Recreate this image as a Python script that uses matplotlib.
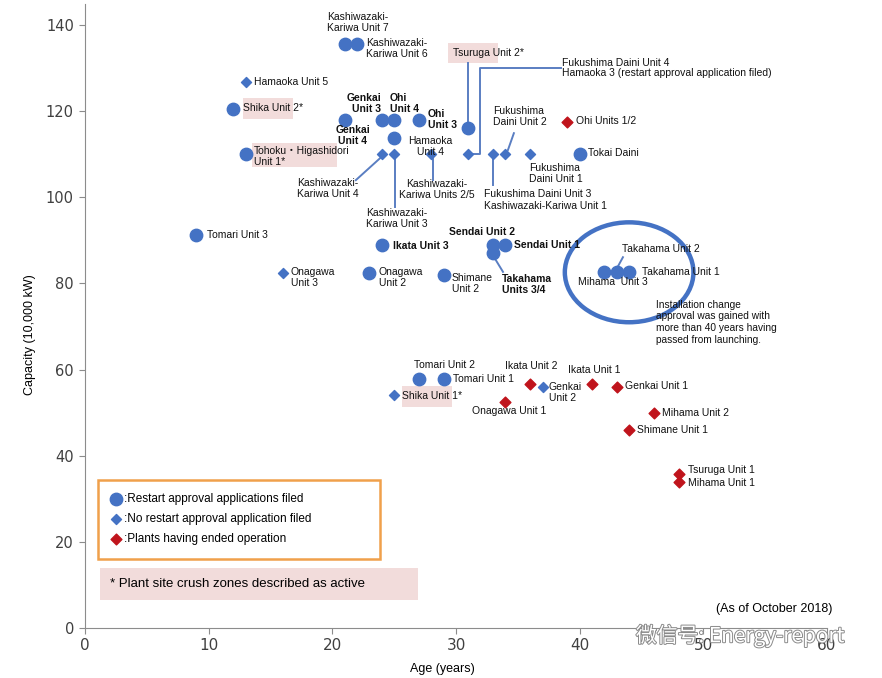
import matplotlib
matplotlib.use("Agg")
import matplotlib.pyplot as plt
from matplotlib.patches import Ellipse, Rectangle
import matplotlib.patheffects as pe

plt.rcParams['font.family'] = ['Liberation Sans', 'Noto Sans CJK JP', 'DejaVu Sans']

# ---- data: age (years) and capacity (10,000 kW) ----
# restart approval applications filed (blue circles)
filed_names = ['Kashiwazaki-Kariwa Unit 7', 'Kashiwazaki-Kariwa Unit 6', 'Shika Unit 2',
               'Genkai Unit 4', 'Genkai Unit 3', 'Ohi Unit 4', 'Ohi Unit 3', 'Hamaoka Unit 4',
               'Tsuruga Unit 2', 'Tohoku Higashidori Unit 1', 'Tokai Daini', 'Tomari Unit 3',
               'Ikata Unit 3', 'Sendai Unit 2', 'Sendai Unit 1', 'Takahama Units 3/4',
               'Onagawa Unit 2', 'Shimane Unit 2', 'Mihama Unit 3', 'Takahama Unit 2',
               'Takahama Unit 1', 'Tomari Unit 2', 'Tomari Unit 1']
filed_age = [21, 22, 12, 21, 24, 25, 27, 25, 31, 13, 40, 9, 24, 33, 34, 33, 23, 29, 42, 43, 44, 27, 29]
filed_cap = [135.6, 135.6, 120.6, 118, 118, 118, 118, 113.7, 116, 110, 110, 91.2, 89, 89, 89, 87,
             82.5, 82, 82.6, 82.6, 82.6, 57.9, 57.9]

# no restart approval application filed (blue diamonds)
nofile_names = ['Hamaoka Unit 5', 'Kashiwazaki-Kariwa Unit 4', 'Kashiwazaki-Kariwa Unit 3',
                'Kashiwazaki-Kariwa Units 2/5', 'Fukushima Daini Unit 4 / Hamaoka 3',
                'Fukushima Daini Unit 3 / Kashiwazaki-Kariwa Unit 1', 'Fukushima Daini Unit 2',
                'Fukushima Daini Unit 1', 'Onagawa Unit 3', 'Shika Unit 1', 'Genkai Unit 2']
nofile_age = [13, 24, 25, 28, 31, 33, 34, 36, 16, 25, 37]
nofile_cap = [126.7, 110, 110, 110, 110, 110, 110, 110, 82.5, 54, 55.9]

# plants having ended operation (red diamonds)
ended_names = ['Ohi Units 1/2', 'Ikata Unit 2', 'Onagawa Unit 1', 'Ikata Unit 1', 'Genkai Unit 1',
               'Mihama Unit 2', 'Shimane Unit 1', 'Tsuruga Unit 1', 'Mihama Unit 1']
ended_age = [39, 36, 34, 41, 43, 46, 44, 48, 48]
ended_cap = [117.5, 56.6, 52.4, 56.6, 55.9, 50, 46, 35.7, 34]

x_ticks = [0, 10, 20, 30, 40, 50, 60]
y_ticks = [0, 20, 40, 60, 80, 100, 120, 140]

BLUE = '#4472C4'
RED = '#C0141C'
PINK = '#F2DCDB'
LINE = '#5A7EC2'

fig = plt.figure(figsize=(8.82, 6.78), dpi=100)
ax = fig.add_axes([85 / 882, 50 / 678, 742 / 882, 624 / 678])
ax.set_xlim(0, 60)
ax.set_ylim(0, 144.9)

s1 = ax.scatter(filed_age, filed_cap, s=80, marker='o', color=BLUE, zorder=3,
                label=':Restart approval applications filed')
s2 = ax.scatter(nofile_age, nofile_cap, s=26, marker='D', color=BLUE, zorder=3,
                label=':No restart approval application filed')
s3 = ax.scatter(ended_age, ended_cap, s=30, marker='D', color=RED, zorder=3,
                label=':Plants having ended operation')

# pink highlight behind names in active crush zones
for x0, x1, y0, y1 in [(12.77, 16.81, 118.2, 123.1), (13.5, 20.37, 107.0, 112.6),
                       (29.35, 33.39, 131.2, 135.8), (25.63, 29.67, 51.3, 56.2)]:
    ax.add_patch(Rectangle((x0, y0), x1 - x0, y1 - y0, facecolor=PINK, edgecolor='none', zorder=1))

# leader lines
leaders = [
    ([30.96, 30.96], [117.4, 131.2]),
    ([31.3, 31.93, 31.93, 38.5], [110, 110, 130.0, 130.0]),
    ([34.2, 34.68], [111, 114.9]),
    ([33, 33], [109, 102.9]),
    ([23.9, 21.9], [109.2, 104.0]),
    ([25.1, 25.1], [109, 97.7]),
    ([28.1, 28.1], [109, 104.0]),
    ([33.1, 33.8], [86, 82.7]),
    ([43.1, 43.5], [84, 86.1]),
]
for xs, ys in leaders:
    ax.plot(xs, ys, color=LINE, lw=1.4, zorder=2)

ax.add_patch(Ellipse((44.0, 82.6), 10.4, 23.2, fill=False, edgecolor=BLUE, lw=3.2, zorder=2))

# point labels: text, x, y, ha, bold
labels = [
    ('Kashiwazaki-\nKariwa Unit 7', 19.56, 140.6, 'left', False),
    ('Kashiwazaki-\nKariwa Unit 6', 22.72, 134.5, 'left', False),
    ('Hamaoka Unit 5', 13.66, 126.8, 'left', False),
    ('Shika Unit 2*', 12.77, 120.7, 'left', False),
    ('Genkai\nUnit 3', 23.93, 121.8, 'right', True),
    ('Ohi\nUnit 4', 24.66, 121.8, 'left', True),
    ('Ohi\nUnit 3', 27.73, 118.1, 'left', True),
    ('Genkai\nUnit 4', 21.67, 114.3, 'center', True),
    ('Hamaoka\nUnit 4', 27.9, 111.9, 'center', False),
    ('Tohoku・Higashidori\nUnit 1*', 13.66, 109.4, 'left', False),
    ('Kashiwazaki-\nKariwa Unit 4', 17.14, 102.0, 'left', False),
    ('Kashiwazaki-\nKariwa Unit 3', 22.72, 95.1, 'left', False),
    ('Kashiwazaki-\nKariwa Units 2/5', 28.46, 101.8, 'center', False),
    ('Tsuruga Unit 2*', 29.75, 133.5, 'left', False),
    ('Fukushima\nDaini Unit 2', 32.98, 118.8, 'left', False),
    ('Ohi Units 1/2', 39.7, 117.7, 'left', False),
    ('Tokai Daini', 40.66, 110.3, 'left', False),
    ('Fukushima\nDaini Unit 1', 35.9, 105.5, 'left', False),
    ('Fukushima Daini Unit 3\nKashiwazaki-Kariwa Unit 1', 32.26, 99.4, 'left', False),
    ('Tomari Unit 3', 9.86, 91.2, 'left', False),
    ('Ikata Unit 3', 24.9, 88.7, 'left', True),
    ('Sendai Unit 2', 29.43, 91.9, 'left', True),
    ('Sendai Unit 1', 34.68, 88.9, 'left', True),
    ('Onagawa\nUnit 3', 16.65, 81.3, 'left', False),
    ('Onagawa\nUnit 2', 23.77, 81.3, 'left', False),
    ('Shimane\nUnit 2', 29.67, 80.0, 'left', False),
    ('Takahama\nUnits 3/4', 33.7, 79.8, 'left', True),
    ('Takahama Unit 2', 43.4, 88.0, 'left', False),
    ('Takahama Unit 1', 45.0, 82.6, 'left', False),
    ('Mihama  Unit 3', 39.85, 80.3, 'left', False),
    ('Tomari Unit 2', 26.6, 61.1, 'left', False),
    ('Tomari Unit 1', 29.75, 57.8, 'left', False),
    ('Shika Unit 1*', 25.63, 53.9, 'left', False),
    ('Ikata Unit 2', 33.95, 60.8, 'left', False),
    ('Genkai\nUnit 2', 37.5, 54.7, 'left', False),
    ('Onagawa Unit 1', 31.3, 50.4, 'left', False),
    ('Ikata Unit 1', 39.05, 59.9, 'left', False),
    ('Genkai Unit 1', 43.65, 56.2, 'left', False),
    ('Mihama Unit 2', 46.65, 49.9, 'left', False),
    ('Shimane Unit 1', 44.6, 46.0, 'left', False),
    ('Tsuruga Unit 1', 48.75, 36.7, 'left', False),
    ('Mihama Unit 1', 48.75, 33.7, 'left', False),
]
for txt, x, y, ha, bold in labels:
    ax.text(x, y, txt, ha=ha, va='center', fontsize=7.5, linespacing=1.15,
            fontweight='bold' if bold else 'normal', color='#111111', zorder=4)

ax.text(38.56, 130.0, 'Fukushima Daini Unit 4\nHamaoka 3 (restart approval application filed)',
        ha='left', va='center', fontsize=7.5, linespacing=1.05, color='#111111')
ax.text(46.16, 71.0, 'Installation change\napproval was gained with\nmore than 40 years having\npassed from launching.',
        ha='left', va='center', fontsize=7.3, linespacing=1.2, color='#111111')

# legend and notes
leg = ax.legend(handles=[s1, s2, s3], loc='upper left', bbox_to_anchor=(1.05, 15.8, 22.8, 18.6),
                bbox_transform=ax.transData, mode='expand', fontsize=8.5, frameon=True,
                fancybox=False, framealpha=1, edgecolor='#F0A04B', handlelength=0.8,
                handletextpad=0.25, labelspacing=0.68, borderpad=1.15, borderaxespad=0)
leg.get_frame().set_linewidth(1.8)

ax.add_patch(Rectangle((1.21, 6.5), 25.7, 7.43, facecolor=PINK, edgecolor='none', clip_on=False))
ax.text(2.0, 10.2, '* Plant site crush zones described as active', ha='left', va='center', fontsize=9.5)
ax.text(60.4, 4.3, '(As of October 2018)', ha='right', va='center', fontsize=9)

# axes styling
for side in ['top', 'right']:
    ax.spines[side].set_visible(False)
for side in ['left', 'bottom']:
    ax.spines[side].set_color('#8C8C8C')
ax.set_xticks(x_ticks)
ax.set_yticks(y_ticks)
ax.tick_params(axis='both', direction='out', length=4, color='#8C8C8C')
ax.tick_params(axis='y', labelsize=10.5, labelcolor='#404040', pad=4)
ax.tick_params(axis='x', labelsize=11, labelcolor='#404040', pad=3)
for t in ax.get_yticklabels():
    t.set_family('DejaVu Sans')
for t in ax.get_xticklabels():
    t.set_family(['Liberation Sans Narrow', 'DejaVu Sans'])

ax.set_xlabel('Age (years)', fontsize=9, family=['Liberation Sans Narrow', 'Liberation Sans'])
ax.set_ylabel('Capacity (10,000 kW)', fontsize=9, family=['Liberation Sans Narrow', 'Liberation Sans'])
ax.xaxis.set_label_coords(0.482, -0.056)
ax.yaxis.set_label_coords(-0.066, 0.47)

# watermark
fig.text(0.721, 0.062, '微信号: Energy-report', fontsize=15, color='white',
         family=['Noto Sans CJK SC', 'DejaVu Sans'], ha='left', va='center',
         path_effects=[pe.withStroke(linewidth=1.4, foreground='#8A8A8A')])

fig.savefig('out.png', dpi=100)
